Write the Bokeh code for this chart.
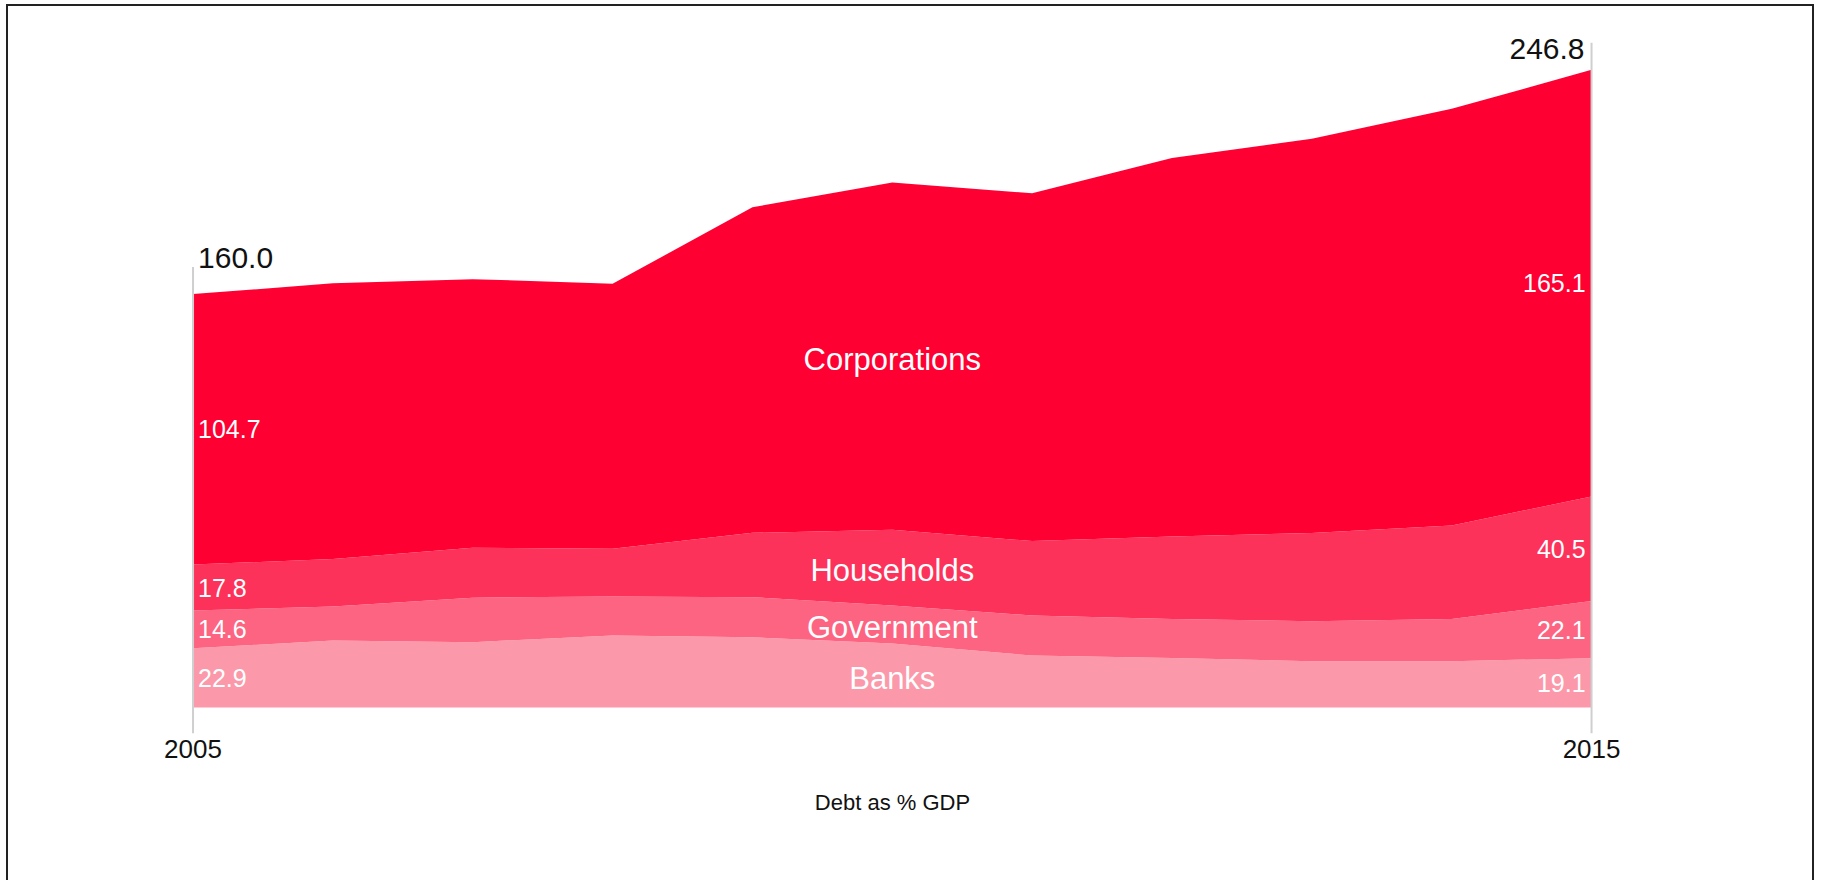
import numpy as np
from bokeh.plotting import figure
from bokeh.models import ColumnDataSource, Range1d, FixedTicker
from bokeh.core.properties import value
from bokeh.embed import file_html
from bokeh.resources import INLINE

# ---- data (debt as % of GDP) ----
years = [2005, 2006, 2007, 2008, 2009, 2010, 2011, 2012, 2013, 2014, 2015]
banks = [22.9, 25.9, 25.3, 27.9, 27.2, 24.8, 20.1, 19.2, 17.9, 17.9, 19.1]
government = [14.6, 13.2, 17.2, 15.1, 15.5, 14.7, 15.5, 15.1, 15.5, 16.4, 22.1]
households = [17.8, 18.4, 19.3, 18.4, 24.9, 29.3, 28.8, 31.9, 34.1, 36.1, 40.5]
corporations = [104.7, 106.7, 104.0, 102.6, 126.0, 134.4, 134.6, 146.5, 152.6, 161.3, 165.1]
series_names = ["Banks", "Government", "Households", "Corporations"]
tick_years = [2005, 2015]
axis_title = "Debt as % GDP"

colors = ["#fb99ab", "#fd6482", "#fd325a", "#ff0033"]
FONT = "Liberation Sans"

layers = [np.array(banks), np.array(government), np.array(households), np.array(corporations)]
cum = np.cumsum(np.vstack(layers), axis=0)
lower = np.vstack([np.zeros(len(years)), cum[:-1]])
mid = (cum + lower) / 2.0
total = cum[-1]

source = ColumnDataSource(dict(year=years, banks=banks, government=government,
                               households=households, corporations=corporations))

p = figure(width=1808, height=876, output_backend="svg", toolbar_location=None,
           x_range=Range1d(2004.796, 2015.207), y_range=Range1d(-10.45, 265.9),
           y_axis_location=None, min_border_left=156, min_border_right=196,
           min_border_top=14, min_border_bottom=148)
p.styles = {"border-top": "2px solid #222", "border-left": "2px solid #222",
            "border-right": "2px solid #222", "margin-left": "6px", "margin-top": "4px"}
p.outline_line_color = None
p.grid.visible = False
p.background_fill_color = "white"
p.border_fill_color = "white"

p.varea_stack(["banks", "government", "households", "corporations"], x="year",
              color=colors, source=source)

# light gray guide lines at first / last year
i0, i1 = 0, len(years) - 1
p.segment(x0=[years[i0], years[i1]], y0=[-10, -10],
          x1=[years[i0], years[i1]], y1=[total[i0] + 10.5, total[i1] + 10.5],
          line_color="#cfcfcf", line_width=2)

# axis
ax = p.xaxis[0]
ax.ticker = FixedTicker(ticks=tick_years)
ax.axis_line_color = None
ax.major_tick_line_color = None
ax.minor_tick_line_color = None
ax.major_tick_out = 0
ax.major_label_standoff = 5
ax.major_label_text_font = FONT
ax.major_label_text_font_size = "26px"
ax.major_label_text_color = "#111111"
ax.axis_label = axis_title
ax.axis_label_text_font = FONT
ax.axis_label_text_font_style = "normal"
ax.axis_label_text_font_size = "22px"
ax.axis_label_text_color = "#111111"
ax.axis_label_standoff = 29

# totals
p.text(x=[years[i0]], y=[total[i0]], text=[f"{total[i0]:.1f}"], x_offset=5, y_offset=-36,
       text_align="left", text_baseline="alphabetic", text_color="#111111",
       text_font=value(FONT), text_font_size="30px")
p.text(x=[years[i1]], y=[total[i1]], text=[f"{total[i1]:.1f}"], x_offset=-7, y_offset=-21,
       text_align="right", text_baseline="alphabetic", text_color="#111111",
       text_font=value(FONT), text_font_size="30px")

# start / end values per layer
p.text(x=[years[i0]] * 4, y=list(mid[:, i0]), text=[f"{l[i0]:.1f}" for l in layers],
       x_offset=5, text_align="left", text_baseline="middle", text_color="white",
       text_font=value(FONT), text_font_size="25px")
p.text(x=[years[i1]] * 4, y=list(mid[:, i1]), text=[f"{l[i1]:.1f}" for l in layers],
       x_offset=-6, text_align="right", text_baseline="middle", text_color="white",
       text_font=value(FONT), text_font_size="25px")

# category names at the middle year
im = years.index(2010)
p.text(x=[years[im]] * 4, y=list(mid[:, im]), text=series_names, y_offset=3,
       text_align="center", text_baseline="middle", text_color="white",
       text_font=value(FONT), text_font_size="31px")

open("out.html", "w").write(file_html(p, INLINE))
